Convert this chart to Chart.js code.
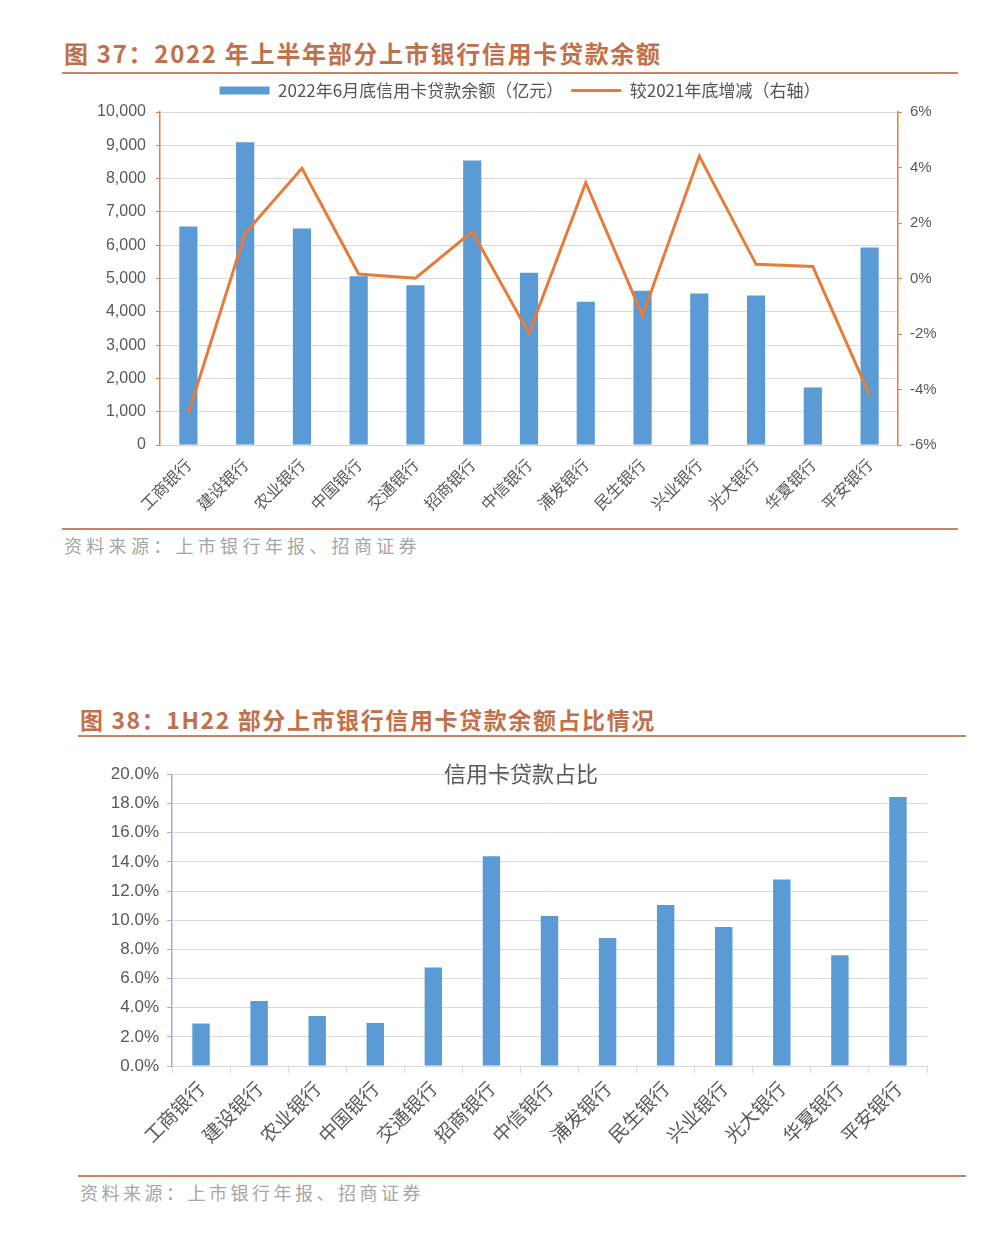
<!DOCTYPE html>
<html>
<head>
<meta charset="utf-8">
<script src="https://cdn.jsdelivr.net/npm/chart.js@4.4.1/dist/chart.umd.min.js"></script>
<style>
  html, body { margin:0; padding:0; background:#fff; }
  body { width:1005px; height:1234px; position:relative; overflow:hidden; font-family:"Noto Sans CJK SC","Liberation Sans",sans-serif; }
  .title { position:absolute; color:#c0714c; font-weight:bold; white-space:nowrap; line-height:1; }
  .rule { position:absolute; height:2px; background:#c48568; }
  .source { position:absolute; color:#a6a6a6; font-size:18px; white-space:nowrap; line-height:1; }
  .wrap { position:absolute; }
</style>
</head>
<body>
<div class="title" style="left:64px;top:41px;font-size:24px;letter-spacing:1.7px;">图 37：2022 年上半年部分上市银行信用卡贷款余额</div>
<div class="rule" style="left:62px;top:72px;width:896px;"></div>
<div class="wrap" style="left:35px;top:74px;"><canvas id="c1" width="970" height="451"></canvas></div>
<div class="rule" style="left:62px;top:528px;width:896px;"></div>
<div class="source" style="left:64px;top:536px;letter-spacing:4.3px;">资料来源：上市银行年报、招商证券</div>

<div class="title" style="left:80px;top:708px;font-size:23px;letter-spacing:1.6px;">图 38：1H22 部分上市银行信用卡贷款余额占比情况</div>
<div class="rule" style="left:78px;top:735px;width:888px;"></div>
<div class="wrap" style="left:37px;top:748px;"><canvas id="c2" width="968" height="412"></canvas></div>
<div class="rule" style="left:78px;top:1175px;width:888px;"></div>
<div class="source" style="left:80px;top:1183px;letter-spacing:3.5px;">资料来源：上市银行年报、招商证券</div>

<script>
const banks = ["工商银行","建设银行","农业银行","中国银行","交通银行","招商银行","中信银行","浦发银行","民生银行","兴业银行","光大银行","华夏银行","平安银行"];
const loanBalance = [6560, 9090, 6500, 5070, 4800, 8540, 5170, 4300, 4630, 4550, 4490, 1730, 5930];
const changeVs2021 = [-4.86, 1.63, 3.97, 0.16, 0.01, 1.69, -1.98, 3.45, -1.35, 4.41, 0.51, 0.43, -4.2];
const cardLoanShare = [2.91, 4.46, 3.43, 2.95, 6.75, 14.38, 10.29, 8.78, 11.04, 9.53, 12.8, 7.59, 18.45];
const leftTicks = [0,1000,2000,3000,4000,5000,6000,7000,8000,9000,10000];
const rightTicks = [-6,-4,-2,0,2,4,6];
const shareTicks = [0,2,4,6,8,10,12,14,16,18,20];

const BLUE = "#5b9bd5";
const ORANGE = "#e57c3a";
const GRID = "#d9d9d9";
const TICK = "#595959";
const NUM = "'Liberation Sans', Arial, sans-serif";
const CJK = "'Noto Sans CJK SC', sans-serif";

// fixes the legend block height so the plot area starts where the reference's does
const legendHeight = {
  id:"legendHeight",
  beforeLayout(chart, args, opts){
    const lg = chart.legend;
    if (lg && !lg._patched){
      const orig = lg.fit;
      lg.fit = function(){ orig.call(this); this.height = opts.height; };
      lg._patched = true;
    }
  }
};

new Chart(document.getElementById("c1"), {
  data: {
    labels: banks,
    datasets: [
      { type:"line", label:"较2021年底增减（右轴）", data:changeVs2021, yAxisID:"y1",
        borderColor:ORANGE, backgroundColor:ORANGE, borderWidth:3, pointRadius:0, tension:0,
        pointStyle:"line", order:0 },
      { type:"bar", label:"2022年6月底信用卡贷款余额（亿元）", data:loanBalance, yAxisID:"y",
        backgroundColor:BLUE, barPercentage:0.32, categoryPercentage:1, pointStyle:"rect", order:1 }
    ]
  },
  plugins:[legendHeight],
  options: {
    responsive:false, animation:false, devicePixelRatio:1,
    layout:{ padding:0 },
    plugins:{
      legendHeight:{ height:38 },
      legend:{ display:true, position:"top", reverse:true,
        labels:{ usePointStyle:true, pointStyleWidth:50, boxHeight:8, padding:8,
          color:"#555", font:{ family:CJK, size:17 } } },
      tooltip:{ enabled:false }
    },
    scales:{
      x:{ grid:{ display:false }, border:{ display:true, color:"#dccbc0", width:1 },
        ticks:{ minRotation:45, maxRotation:45, autoSkip:false, padding:2, color:TICK, font:{ family:CJK, size:16 } },
        afterFit:(s)=>{ s.height = 80; } },
      y:{ position:"left", min:0, max:10000, afterBuildTicks:(s)=>{ s.ticks = leftTicks.map(v=>({value:v})); },
        grid:{ color:GRID, lineWidth:1, tickColor:ORANGE, tickLength:4 },
        border:{ color:ORANGE, width:1.5 },
        ticks:{ color:TICK, padding:10, font:{ family:NUM, size:16 }, callback:(v)=>v.toLocaleString("en-US") },
        afterFit:(s)=>{ s.width = 125; } },
      y1:{ position:"right", min:-6, max:6, afterBuildTicks:(s)=>{ s.ticks = rightTicks.map(v=>({value:v})); },
        grid:{ drawOnChartArea:false, tickColor:ORANGE, tickLength:4 },
        border:{ color:ORANGE, width:1.5 },
        ticks:{ color:TICK, padding:8, font:{ family:NUM, size:15 }, callback:(v)=>v+"%" },
        afterFit:(s)=>{ s.width = 107; } }
    }
  }
});

new Chart(document.getElementById("c2"), {
  type:"bar",
  data: {
    labels: banks,
    datasets: [
      { label:"信用卡贷款占比", data:cardLoanShare, backgroundColor:BLUE, barPercentage:0.3, categoryPercentage:1 }
    ]
  },
  options: {
    responsive:false, animation:false, devicePixelRatio:1,
    layout:{ padding:0 },
    plugins:{
      legend:{ display:false },
      tooltip:{ enabled:false },
      title:{ display:true, text:"信用卡贷款占比", color:"#595959", font:{ family:CJK, size:22, weight:"normal" },
        padding:{ top:12, bottom:-12 } }
    },
    scales:{
      x:{ grid:{ display:true, drawOnChartArea:false, tickLength:7, tickColor:"#d9d9d9" },
        border:{ display:true, color:"#d9d9d9", width:1 },
        ticks:{ minRotation:45, maxRotation:45, autoSkip:false, padding:4, color:TICK, font:{ family:CJK, size:19 } },
        afterFit:(s)=>{ s.height = 94; } },
      y:{ min:0, max:20, afterBuildTicks:(s)=>{ s.ticks = shareTicks.map(v=>({value:v})); },
        grid:{ color:GRID, lineWidth:1, tickColor:"#8fb3da", tickLength:5 },
        border:{ color:"#8fb3da", width:1.5 },
        ticks:{ color:TICK, padding:8, font:{ family:NUM, size:17 }, callback:(v)=>v.toFixed(1)+"%" },
        afterFit:(s)=>{ s.width = 135; } },
      yPad:{ position:"right", min:0, max:20, grid:{ display:false }, border:{ display:false },
        ticks:{ display:false }, afterFit:(s)=>{ s.width = 78; } }
    }
  }
});
</script>
</body>
</html>
